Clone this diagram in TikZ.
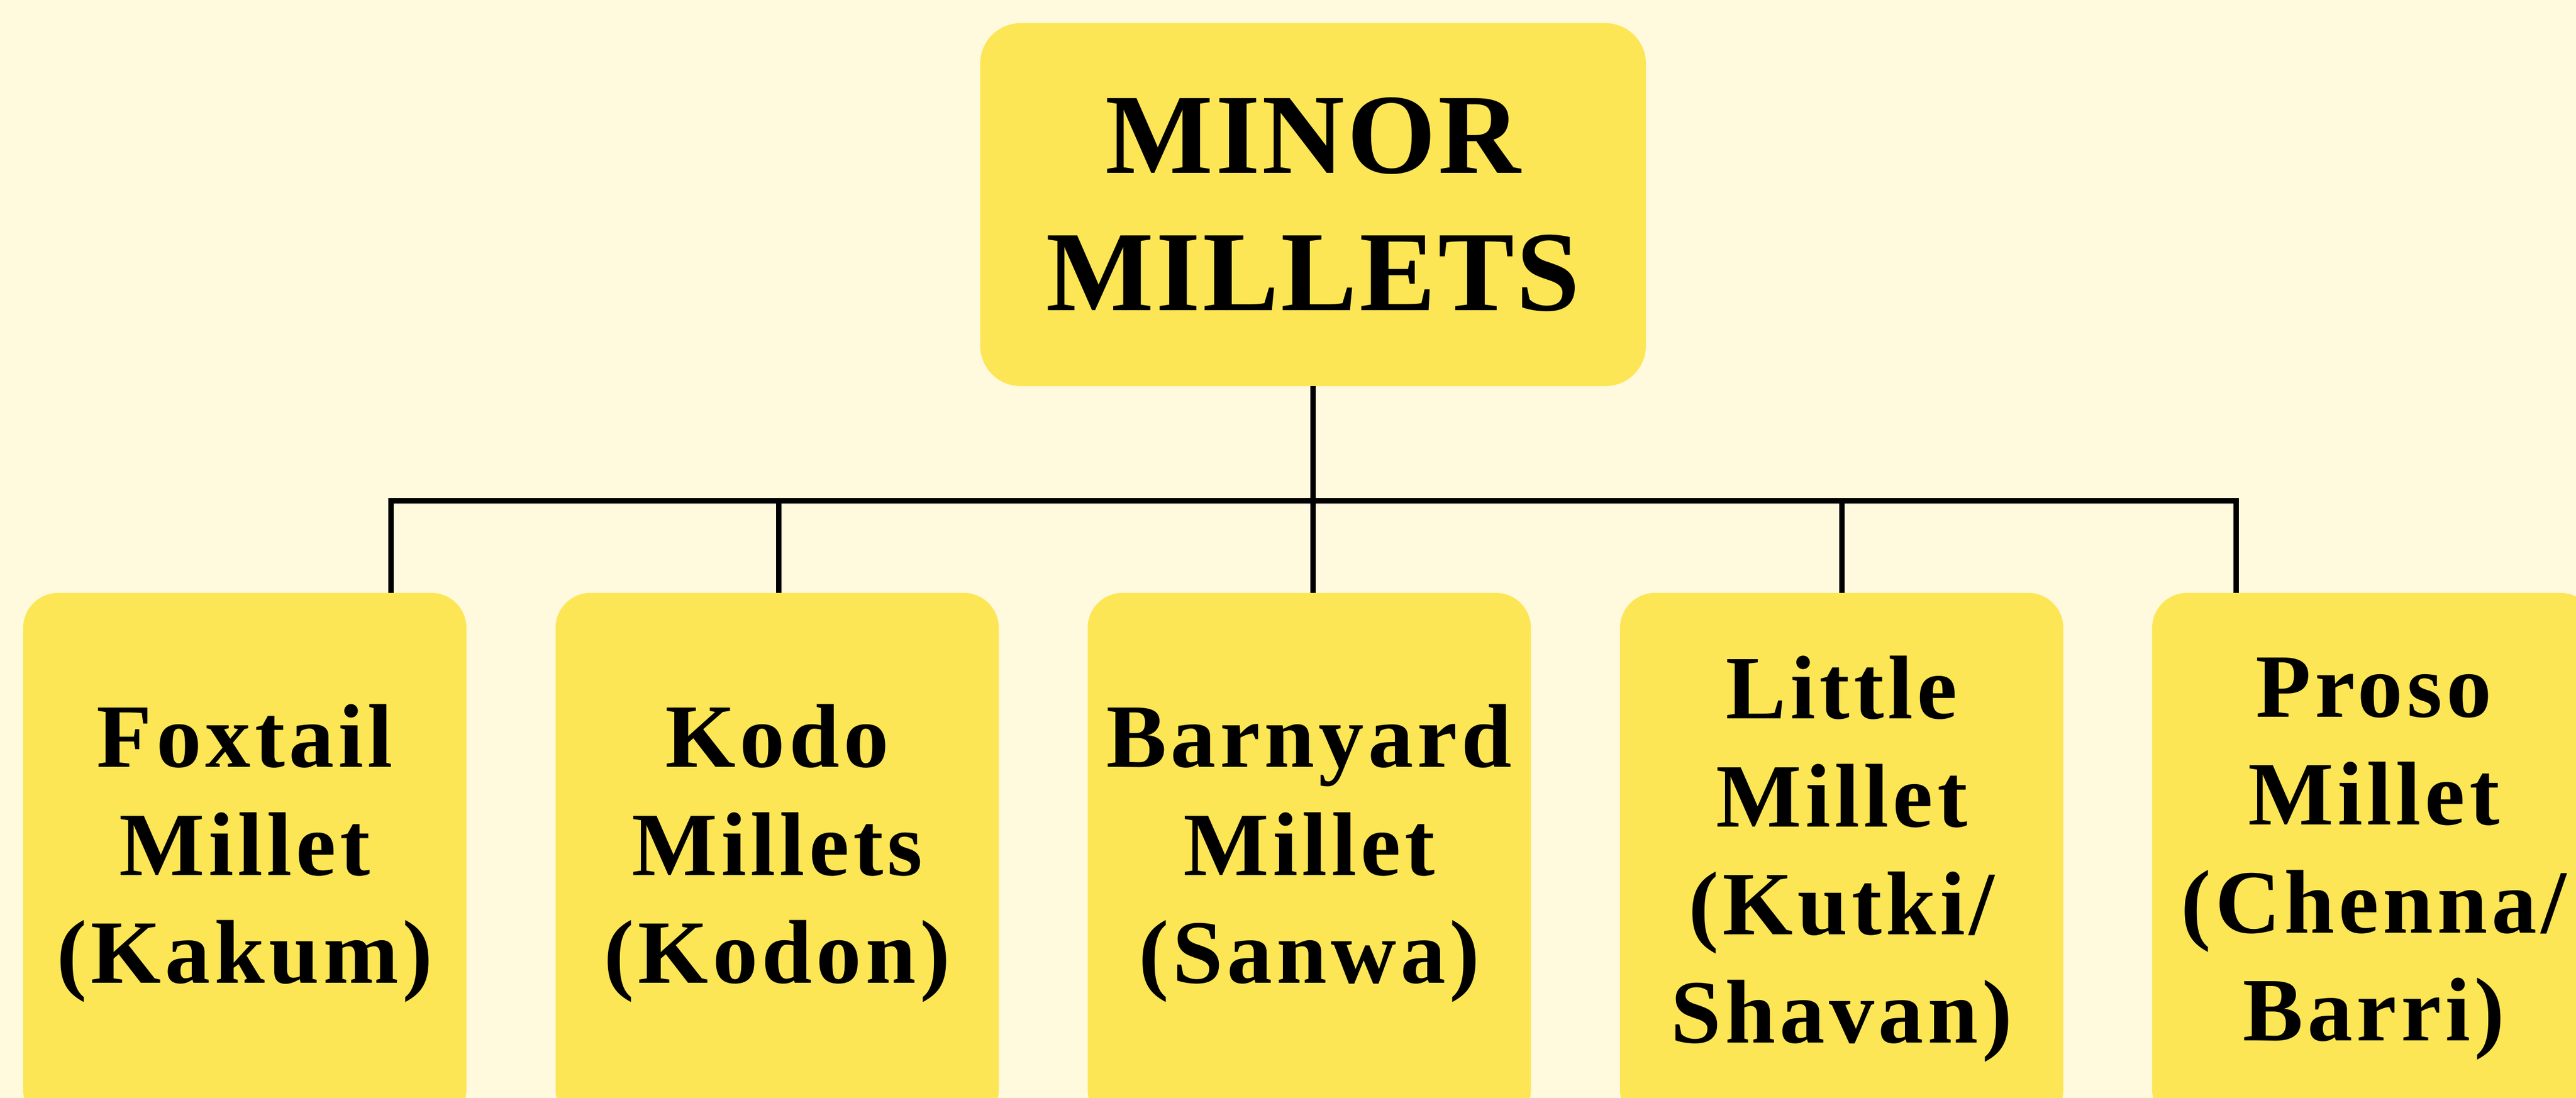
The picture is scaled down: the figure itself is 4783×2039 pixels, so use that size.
\documentclass[tikz,border=0pt]{standalone}
\usepackage{fontspec}
\setmainfont{Liberation Serif}
\newfontfamily\leaffont[LetterSpace=4.5]{Liberation Serif}
\newfontfamily\rootfont[LetterSpace=2]{Liberation Serif}
\definecolor{bgcream}{RGB}{255,249,221}
\definecolor{boxyellow}{RGB}{253,230,85}
\newcommand{\lowstrut}{\rule[-56pt]{0pt}{1pt}}
\begin{document}
\begin{tikzpicture}[x=1pt,y=-1pt,
  rootbox/.style={rounded corners=75pt, fill=boxyellow, minimum width=1236pt, minimum height=674pt, inner sep=0pt, align=center, font=\rootfont\bfseries\fontsize{212}{255}\selectfont},
  leafbox/.style={rounded corners=65pt, fill=boxyellow, minimum width=823pt, minimum height=988pt, inner sep=0pt, align=center, font=\leaffont\bfseries\fontsize{168}{200.5}\selectfont},
  conn/.style={draw=black, line width=10.5pt, line join=miter}]
\useasboundingbox[fill=bgcream] (0,0) rectangle (4783,2039);
\node[rootbox] (root) at (2438,380) {MINOR\\MILLETS};
\node[leafbox] (leaf1) at (454.5,1595) {Foxtail\\Millet\\(Kakum)\lowstrut};
\node[leafbox] (leaf2) at (1443,1595) {Kodo\\Millets\\(Kodon)\lowstrut};
\node[leafbox] (leaf3) at (2431,1595) {Barnyard\\Millet\\(Sanwa)\lowstrut};
\node[leafbox] (leaf4) at (3419.5,1595) {Little\\Millet\\(Kutki/\\Shavan)};
\node[leafbox] (leaf5) at (4407.5,1595) {Proso\\Millet\\(Chenna/\\Barri)};
\coordinate (bus) at (2438,930);
\coordinate (d1) at (726,930);
\coordinate (d2) at (1446,930);
\coordinate (d4) at (3420,930);
\coordinate (d5) at (4152,930);
\draw[conn] (root.south) -- (bus);
\draw[conn] (d1 |- leaf1.north) -- (d1) -- (d5) -- (d5 |- leaf5.north);
\draw[conn] (d2) -- (d2 |- leaf2.north);
\draw[conn] (bus) -- (bus |- leaf3.north);
\draw[conn] (d4) -- (d4 |- leaf4.north);
\end{tikzpicture}
\end{document}
